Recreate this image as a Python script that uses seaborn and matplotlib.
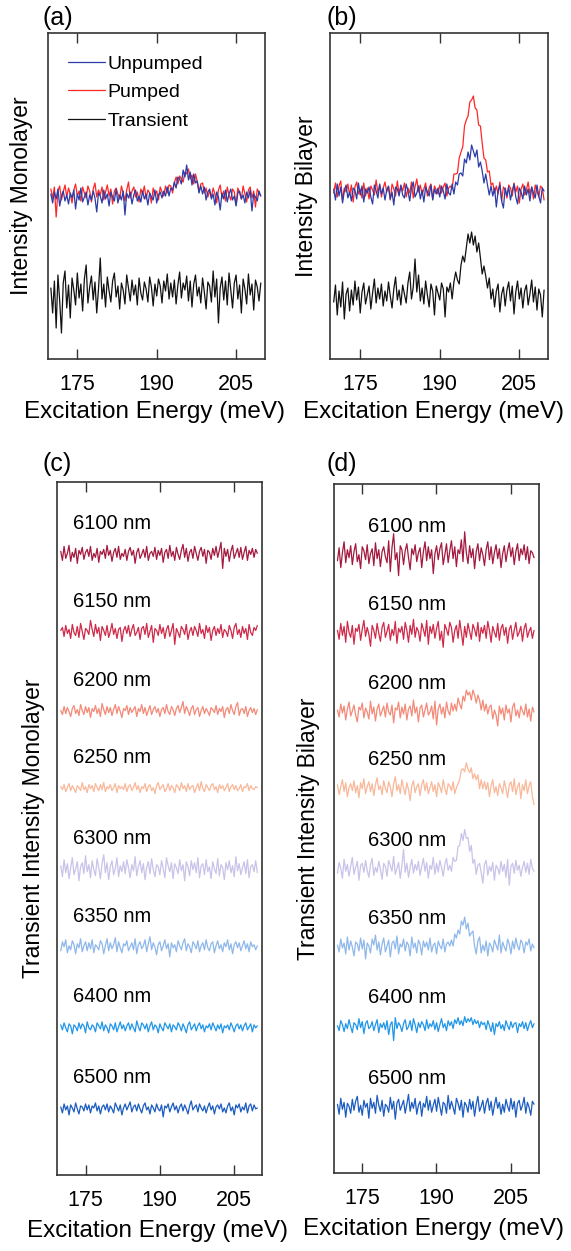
import numpy as np
import pandas as pd
import matplotlib
matplotlib.use("Agg")
import matplotlib.pyplot as plt
import seaborn as sns

# ---------------- data ----------------
energy = np.linspace(170.0, 209.7, 120)  # excitation energy grid (meV)
ticks = [175, 190, 205]

# panel (a) monolayer spectra (arb. units)
mono_unpumped = [3, -6, 5, -2, 8, -9, 1, 6, -4, 2,
                 -7, 4, -1, 7, -12, 3, -3, 9, -5, 0,
                 5, -8, 2, -3, 6, -1, -15, 4, 1, -6,
                 7, -2, 3, -9, 5, 0, -4, 8, -6, 2,
                 -3, 6, -18, 4, -1, 5, -7, 2, 7, -4,
                 1, -5, 6, -2, 3, -8, 4, 0, -3, 7,
                 -6, 2, 5, -1, 6, 1, 10, 1, 9, 7,
                 15, 9, 20, 18, 13, 27, 20, 32, 17, 25,
                 12, 23, 14, 16, 4, 11, 3, 10, -3, 5,
                 8, -2, 3, -8, 5, 0, -13, 4, -2, 7,
                 -5, 3, 8, -3, 1, -9, 4, 6, -2, 2,
                 -6, 5, -1, 7, -14, 3, 0, -4, 6, 1]
mono_pumped = [6, -3, 8, -22, 4, 9, -5, 3, 10, -2,
               7, 1, -8, 5, 11, -1, 4, -6, 8, 2,
               -3, 9, 4, -7, 6, 12, -2, 5, 0, 8,
               -5, 3, 10, -1, 6, -9, 4, 7, 1, -4,
               9, 2, -6, 5, 13, -3, 4, 8, -2, 3,
               -7, 6, 1, 9, -4, 5, 2, -8, 7, 0,
               4, -5, 8, 3, -1, 9, 2, 10, 9, 2,
               12, 18, 11, 19, 16, 13, 23, 21, 26, 16,
               20, 11, 21, 13, 3, 11, 12, 2, 7, -2,
               4, -2, 7, 1, -8, 5, 10, -3, 4, -6,
               8, 0, -5, 6, 3, -10, 7, 2, -4, 9,
               1, -7, 5, 8, -3, 4, -12, 6, 2, -1]
mono_transient = [5, -20, 12, -35, 18, -8, -40, 10, 22, -15,
                  8, -25, 15, 3, -12, 20, -5, 9, -18, 14,
                  28, -10, 6, 17, -7, 11, -20, 4, 35, -6,
                  9, -14, 16, 2, -9, 12, 20, -4, 7, -16,
                  10, 3, -11, 18, 5, -8, 13, -2, 8, -12,
                  15, 0, -7, 11, 4, -9, 16, 6, -13, 9,
                  -3, 14, 7, -10, 12, 2, 19, -6, 10, -4,
                  13, -11, 8, 21, -5, 10, 3, 17, -8, 12,
                  -14, 9, 18, -3, 6, -10, 15, 1, -16, 11,
                  7, -9, 22, -4, 14, -30, 5, 16, -7, 12,
                  -12, 20, 3, -15, 10, 18, -6, 8, -20, 14,
                  4, -11, 19, -2, 9, -17, 13, 6, -8, 10]

# panel (b) bilayer spectra (arb. units)
bi_unpumped = [4, -7, 9, -3, 6, -10, 2, 8, -5, 1,
               -8, 5, 3, -6, 10, -2, 7, -9, 4, 0,
               6, -4, -11, 8, 2, -5, 9, -1, 5, -7,
               3, 7, -6, 1, -12, 6, 4, -3, 8, -2,
               -5, 9, 2, -8, 5, 11, -4, 0, 7, -6,
               3, -9, 6, 1, -3, 8, -7, 4, -1, 5,
               -4, 7, 2, -6, 9, 0, -2, 9, -1, 11,
               8, 19, 20, 17, 34, 30, 41, 33, 48, 42,
               36, 43, 26, 31, 22, 10, 19, 8, -2, 7,
               -3, 5, -14, 2, 8, -8, -15, 5, -3, 6,
               -7, 2, 9, -4, -11, 5, 1, -6, 7, -2,
               4, -8, 6, 0, -5, 8, -3, -10, 5, 2]
bi_pumped = [-2, 8, -6, 5, 10, -9, 3, -1, 7, -4,
             6, -11, 4, 9, -3, 2, -7, 8, -5, 3,
             -8, 5, 1, -4, 11, -2, 6, -6, 3, 9,
             -1, 4, -9, 7, 2, -5, 10, -3, 5, 0,
             8, -6, 3, -2, 9, -7, 4, 12, -1, 6,
             -4, 2, 8, -5, 3, 7, -8, 5, 1, -3,
             6, -2, 4, 8, -5, 3, 5, 2, 17, 17,
             18, 33, 39, 44, 65, 71, 75, 89, 91, 95,
             83, 81, 66, 65, 48, 33, 31, 19, 20, 6,
             8, -2, 5, -3, 9, -10, 4, 1, -7, 6,
             3, -5, 8, -1, 5, -12, 2, 7, -4, 1,
             9, -3, 4, -8, 6, 0, -6, 5, 3, -9]
bi_transient = [-5, 12, -18, 6, -10, 15, -22, 3, 9, -14,
                7, -8, 16, -3, 10, -16, 5, 14, -7, 2,
                11, -12, 4, 18, -6, 9, -2, 13, -9, 6,
                -4, 15, 1, -11, 8, 20, -3, 7, -8, 12,
                3, -6, 14, 25, -2, 10, 38, 5, 22, -4,
                9, -7, 16, 2, -10, 13, 6, -18, 11, 4,
                -3, 14, 8, -20, 10, 5, 14, -2, 15, 25,
                17, 13, 32, 41, 35, 49, 63, 54, 65, 52,
                61, 45, 54, 39, 23, 31, 21, 9, 19, -2,
                8, -10, 6, 13, -15, 3, 10, -9, 7, 15,
                -4, 11, -17, 5, 16, -2, 9, -11, 6, 12,
                -8, 3, 17, -5, 10, -13, 8, 2, -20, 7]

# panels (c)/(d): pump wavelengths
wavelengths = ["6100 nm", "6150 nm", "6200 nm", "6250 nm",
               "6300 nm", "6350 nm", "6400 nm", "6500 nm"]

mono_6100 = [3, -6, 8, -4, 1, 9, -7, 2, -3, 6, -9, 4, 0, 7, -5, 2, 5, -2, 8, -6,
             1, -3, 6, -8, 3, 0, 5, -4, 9, -1, 4, -7, 2, 6, -3, 8, -5, 1, -2, 5,
             -6, 3, 7, -1, 4, -9, 2, 6, -4, 0, 5, -3, 8, -6, 1, 3, -2, 7, -5, 4,
             -1, 6, -8, 2, 5, -4, 9, -2, 3, -6, 7, 0, -5, 4, 10, -3, 6, -7, 2, 5,
             -4, 8, 1, -6, 3, 7, -2, 5, -9, 4, 2, -5, 6, -1, 8, -3, 4, 12, -14, 6,
             -2, 5, -7, 3, 9, -4, 1, 6, -3, 7, -5, 2, 8, -6, 4, 0, 6, -3, 5, 1]
mono_6150 = [2, 5, -4, 7, -1, 3, -6, 8, 0, -3, 6, -5, 9, 1, -7, 4, 2, -2, 12, 3,
             -4, 8, -1, 5, -8, 6, 2, -3, 7, -5, 1, 9, -2, 4, -6, 3, 5, -9, 2, 6,
             -1, 7, -4, 3, 8, -3, 0, 5, -7, 4, 6, -2, 9, -5, 1, 7, -10, 4, 2, -3,
             8, -1, 5, -6, 3, 7, -4, 2, 9, -12, 4, 0, -5, 6, 3, -2, 8, -7, 1, 5,
             -3, 6, 2, -4, 9, -1, 3, -6, 7, 0, 5, -8, 2, 6, -3, 4, -1, 8, -5, 3,
             1, -4, 7, 2, -6, 5, 9, -2, 3, -5, 6, -1, 4, -7, 8, 0, -3, 5, 2, 7]
mono_6200 = [1, -3, 5, -2, 4, 0, -5, 3, 6, -2, 2, -4, 7, 1, -3, 5, -1, 4, -6, 3,
             0, 6, -2, 3, -5, 8, 2, -3, 5, -1, 4, -4, 2, 7, -2, 5, 0, -6, 3, 1,
             6, -3, 4, -1, 2, 5, -5, 3, 0, 7, -2, 4, -4, 1, 6, -3, 2, 5, -1, 3,
             -5, 2, 4, -2, 7, 0, -3, 5, 2, -4, 3, 6, -1, 4, 10, -2, 5, 1, -4, 3,
             6, -3, 2, 4, -5, 1, 5, -2, 3, 0, -4, 4, 2, -1, 6, -3, 3, 0, 5, -6,
             2, 4, -2, 7, 1, -3, 5, 9, -4, 2, 3, -2, 5, -5, 1, 4, -1, 3, -3, 2]
mono_6250 = [2, -1, 4, -3, 1, 5, -2, 3, 0, -4, 3, 1, -2, 6, -1, 2, -4, 4, 0, 3,
             -3, 5, 1, -2, 4, -1, 6, -3, 2, 0, 4, -2, 1, 5, -4, 3, 0, 2, -1, 5,
             -3, 2, 4, -2, 1, 6, -1, 3, -4, 2, 0, 5, -3, 2, 4, -2, 1, -5, 3, 6,
             -1, 2, 4, -3, 0, 5, -2, 3, 1, -4, 4, 2, -2, 6, 0, 3, -3, 5, -1, 2,
             3, -4, 1, 5, -2, 7, 0, -3, 4, 1, -2, 3, 5, -1, 2, -4, 4, 0, 3, -2,
             1, 5, -3, 2, 4, -1, 3, -2, 0, 4, -3, 2, 1, 5, -2, 3, 0, -1, 2, 1]
mono_6300 = [4, -7, 10, -3, 6, -9, 2, 12, -5, 1, 8, -11, 3, 7, -4, 14, -2, 5, -8, 9,
             0, -6, 11, 2, -9, 6, 15, -3, 7, -10, 3, 9, -5, 1, 12, -7, 4, -2, 8, -4,
             10, 2, -8, 5, -1, 13, -6, 3, 9, -3, 6, -10, 2, 8, -4, 11, 0, -7, 5, 3,
             -5, 9, 1, -8, 12, 4, -2, 7, -9, 6, 2, -4, 10, -1, 5, -11, 8, 3, -6, 9,
             0, 7, -3, 12, -8, 4, 6, -5, 10, -2, 3, -9, 8, 1, -4, 11, -6, 5, 2, -10,
             7, 0, 9, -3, 4, -7, 13, -1, 6, -5, 2, 8, -4, 10, -8, 3, 5, -2, 9, -3]
mono_6350 = [-3, 6, 1, 8, -5, 2, -2, 7, 3, -6, 4, 0, 9, -4, 2, 6, -3, 5, -1, 8,
             -5, 3, 1, -2, 7, 4, -6, 2, 9, -3, 5, -1, 3, 10, -4, 6, 0, -5, 4, 2,
             7, -3, 1, 5, -2, 9, -6, 3, 6, -1, 2, 8, -4, 4, 11, -2, 5, 1, -7, 3,
             6, -3, 2, 8, -1, 4, -9, 5, 0, 3, -4, 7, 2, -2, 5, 9, -3, 4, 1, -5,
             6, 3, -1, 7, -4, 2, 5, -2, 8, 0, -3, 4, 6, -5, 2, 7, -1, 3, -4, 5,
             1, 8, -2, 4, -6, 3, 6, 0, 5, -3, 2, 7, -1, 4, -4, 6, 1, 3, -2, 2]
mono_6400 = [3, -2, 5, 0, -4, 4, 2, -6, 3, 1, -3, 5, -1, 4, 2, -5, 6, 0, -2, 3,
             1, -4, 5, 2, -1, 6, -3, 3, 0, -5, 4, 2, -2, 5, -4, 1, 6, -1, 3, -3,
             2, 5, -2, 4, 0, -4, 7, 1, -3, 5, 3, -1, 4, -4, 2, 6, -2, 3, 1, -5,
             4, 0, -3, 5, 2, -1, 4, -4, 3, 1, -2, 5, 2, -3, 4, 0, -5, 3, 6, -2,
             1, 4, -3, 2, 5, -1, 3, -4, 2, 0, 4, -2, 5, 1, -3, 3, -1, 4, -5, 2,
             0, 3, -2, 5, 1, -4, 2, 4, -1, 3, -3, 2, 5, -2, 1, 4, -4, 3, 0, 2]
mono_6500 = [2, -4, 5, -1, 3, -6, 4, 1, -3, 6, 0, -5, 3, 2, -2, 5, -1, 4, -4, 3,
             1, 6, -2, 3, -5, 2, 4, -1, 5, -3, 3, 0, -4, 6, 2, -2, 4, -6, 1, 5,
             -1, 3, 7, -3, 2, 4, -2, 5, 0, -4, 3, 6, -1, 2, -5, 4, 1, -3, 5, 0,
             -2, 4, -8, 3, 1, 5, -3, 2, 6, -1, 3, -4, 2, 5, -2, 4, 0, -5, 3, 8,
             -1, 2, 4, -3, 5, 1, -2, 3, -4, 2, 6, -1, 3, -5, 2, 4, 0, 5, -3, 1,
             -4, 3, 6, -2, 2, -6, 4, 1, 5, -3, 2, -1, 6, -4, 3, 5, -2, 4, 0, 1]

bi_6100 = [-5, 8, -12, 3, 14, -7, 6, -2, 10, -9, 4, 12, -6, 1, -13, 9, 5, -4, 11, -8,
           2, 7, -10, 13, -3, 6, -11, 4, 9, -1, -7, 15, -16, 8, 22, -4, 3, -20, 10, 6,
           -9, 5, 12, -2, -14, 7, 1, 11, -6, 3, 8, -12, 4, 14, -5, 9, -3, 6, -18, 2,
           10, -4, 7, 13, -9, 1, 12, -7, 5, 15, -3, 9, -11, 6, 2, 16, -6, 24, 3, -8,
           10, -2, 7, -13, 4, 12, -5, 8, 1, -10, 6, 14, -4, 9, -8, 3, 11, -3, 7, -12,
           2, 10, -6, 5, 13, -1, 8, -9, 4, 12, -5, 7, 1, 11, -4, 9, -8, 5, 3, -2]
bi_6150 = [3, -6, 10, -2, 7, -9, 12, 1, -4, 8, -11, 5, 2, 9, -7, 4, 13, -3, 6, -1,
           -13, 8, 3, -5, 10, 0, -8, 6, 11, -4, 2, 9, -7, 4, -2, 12, -10, 5, 1, 7,
           -6, 11, 3, -9, 8, -1, 14, -4, 6, 2, -8, 10, 4, -3, 13, -11, 7, 0, 9, -5,
           5, 12, -7, 2, -14, 9, 4, -2, 11, 6, -9, 3, 8, -5, 13, 1, -12, 7, -4, 10,
           2, -6, 9, 4, -3, 11, -8, 6, 0, 8, -5, 12, 3, -9, 7, 1, -4, 10, -7, 5,
           9, -2, 6, -10, 4, 8, -6, 3, 11, -3, 1, 7, -8, 5, 10, -4, 2, 6, -5, 3]
bi_6200 = [2, -5, 8, -1, 6, -8, 3, 10, -4, 1, 7, -3, -10, 5, 2, 9, -6, 4, 0, -7,
           11, -2, 5, -9, 3, 8, -4, 1, 6, -5, 9, 0, -3, 7, -11, 4, 2, 10, -6, 5,
           -2, 8, -8, 3, 6, -4, 12, -1, 5, -10, 4, 7, -5, 2, 9, -3, 0, 6, -7, 11,
           -13, 3, 8, -2, 5, -6, 10, 1, -3, 9, 1, 8, 1, 14, 8, 3, 16, 11, 22, 17,
           20, 12, 22, 17, 9, 17, 12, 2, 12, 1, 8, -2, 5, 7, -7, 2, -3, -14, 6, -2,
           4, -8, 7, -1, 3, -10, 5, 9, -4, 2, -6, 6, 1, -3, 8, -5, 3, -9, 5, 0]
bi_6250 = [4, -6, 2, 9, -3, 6, -8, 1, 5, -2, 8, -4, 3, -9, 6, 0, 10, -5, 2, 7,
           -3, 5, -7, 4, 11, -1, 3, -6, 8, 0, -4, 7, 2, -8, 5, 12, -2, 4, -5, 9,
           1, -6, 6, -1, -12, 3, 8, -4, 2, 5, -7, 4, 9, -2, 6, -5, 1, 7, -3, 4,
           -8, 6, 2, -4, 9, 0, -6, 5, 3, -2, 7, -5, 1, 5, 9, 19, 20, 17, 26, 20,
           16, 21, 10, 15, 9, 14, 0, 9, 0, 7, -1, 6, -8, 3, 9, -4, 2, -7, 5, 1,
           -5, 8, 0, -9, 4, 7, -3, 10, -6, 2, 6, -10, 4, -2, 9, -5, 3, 7, -8, -16]
bi_6300 = [-4, 7, 1, -9, 10, -2, 5, -7, 3, 12, -5, 2, 8, -11, 4, 6, -3, 9, -1, -8,
           5, 11, -6, 2, -3, 8, 0, -10, 6, 3, -7, 9, 4, -2, 13, -5, 1, 7, -9, 4,
           20, -3, 6, -8, 2, 10, -4, 5, -1, 8, -6, 3, 11, -2, 7, -9, 4, 0, 12, -5,
           6, -3, 9, 2, -7, 5, 11, -1, 4, -2, 12, 8, 9, 23, 24, 36, 29, 40, 31, 32,
           18, 24, 6, 10, -5, 4, 6, -3, -14, 5, 9, -6, 3, -2, 7, -11, 4, 1, -5, 8,
           -2, 5, -8, 10, -16, 3, 6, -4, 9, -1, 4, -7, 2, 8, -3, 6, -5, 10, 1, -2]
bi_6350 = [2, -5, 8, -1, 4, -7, 10, -3, 6, 0, -9, 5, 3, -4, 9, -2, 7, -12, 4, 1,
           -6, 8, 2, 12, -3, 5, -8, 3, 9, -5, 1, 7, -10, 4, 6, -2, 11, -7, 3, 0,
           8, -4, 5, 2, -9, 10, -1, 4, -6, 7, 3, -8, 6, 0, 5, -3, 9, -5, 2, 4,
           -7, 6, 1, -2, 8, -5, 3, 5, 1, 7, 1, 13, 9, 17, 13, 26, 22, 30, 18, 24,
           11, 14, 16, 1, -7, 6, 10, -6, 2, -4, 6, -9, 4, 1, -5, 7, 2, -3, 12, -6,
           5, 0, -4, 8, 3, -7, 6, -2, 9, 1, -3, 7, 4, -6, 5, 2, 8, -4, 3, -1]
bi_6400 = [1, -4, 6, 2, -5, 3, -2, 7, 0, -6, 4, 2, -3, 8, -1, 5, -7, 3, 6, -2,
           0, 5, -4, 2, 7, -6, 3, -1, 4, -3, 6, -8, 2, 5, -14, 9, -2, 4, 1, -5,
           3, 7, -3, 0, 6, -4, 8, 2, -6, 4, -1, 5, 2, -4, 7, -2, 3, 0, 6, -3,
           4, -5, 2, 8, -1, 3, -4, 6, 1, 5, -2, 7, 3, 9, 2, 6, 1, 10, 4, 8,
           5, 9, 2, 7, 3, 6, -1, 5, 2, 4, -3, 6, 1, -5, 4, -8, 3, 0, 5, -2,
           2, -4, 6, 1, -3, 5, -1, 3, 4, -6, 3, 0, 5, -2, 4, -4, 2, 6, -1, 3]
bi_6500 = [3, -7, 9, -2, 5, -10, 4, 1, -6, 8, -3, 6, 11, -5, 2, -8, 7, 0, 4, -11,
           9, -1, 5, -6, 12, 2, -4, 7, -9, 3, 1, -5, 10, -2, 6, -12, 4, 8, -3, 2,
           7, -6, 3, 13, -4, 5, -1, 9, -7, 2, 6, -9, 4, 0, 11, -3, 7, -5, 2, 8,
           -4, 10, 1, -8, 5, 3, -6, 12, -2, 6, 0, -7, 9, 4, -3, 7, -10, 5, 2, -5,
           8, -2, 6, -9, 3, 11, -4, 1, 7, -6, 4, 9, -3, 6, -8, 2, 10, -1, 5, -7,
           3, -5, 8, 1, -4, 9, -2, 6, -10, 4, 7, -3, 2, 10, -6, 5, 0, -8, 6, 3]

mono_series = [mono_6100, mono_6150, mono_6200, mono_6250,
               mono_6300, mono_6350, mono_6400, mono_6500]
bi_series = [bi_6100, bi_6150, bi_6200, bi_6250,
             bi_6300, bi_6350, bi_6400, bi_6500]

# vertical offsets of the stacked traces
offsets_ab = {"unpumped": 162, "pumped": 164, "transient": 66}
offsets_ab_bi = {"unpumped": 166, "pumped": 168, "transient": 62}
offsets_cd = [620, 542, 463, 386, 305, 227, 147, 66]

# ---------------- style ----------------
sns.set_theme(style="white")
plt.rcParams["font.family"] = ["Liberation Sans", "DejaVu Sans"]
plt.rcParams["text.color"] = "black"
plt.rcParams["axes.labelcolor"] = "black"
plt.rcParams["xtick.color"] = "black"
plt.rcParams["xtick.labelcolor"] = "black"

col_unp = "#2b3ca8"
col_pmp = "#ff2626"
col_tr = "#111111"
wl_colors = ["#a3193f", "#cf2a4a", "#f38a78", "#f9b89a",
             "#c9c3ea", "#8fb8ea", "#2196e8", "#1c5cc0"]

W, H = 571, 1251
fig = plt.figure(figsize=(W / 100, H / 100), dpi=100)


def make_ax(l, r, t, b):
    return fig.add_axes([l / W, 1 - b / H, (r - l) / W, (b - t) / H])


ax_a = make_ax(47.7, 265.0, 33.0, 359.0)
ax_b = make_ax(330.0, 548.3, 33.0, 359.0)
ax_c = make_ax(57.3, 262.3, 482.3, 1175.0)
ax_d = make_ax(334.0, 539.0, 484.0, 1173.0)


def style_ax(ax, xlim, ylim, ylabel, ylab_x, xlab_x, xlab_pad):
    ax.set_xlim(*xlim)
    ax.set_ylim(*ylim)
    ax.set_xticks(ticks)
    ax.set_xticklabels([str(t) for t in ticks])
    ax.set_yticks([])
    ax.tick_params(axis="x", direction="in", top=True, bottom=True,
                   length=7, width=1.0, color="#333333",
                   labelsize=15.5, pad=11, labelcolor="black")
    for s in ax.spines.values():
        s.set_color("#333333")
        s.set_linewidth(1.2)
    ax.set_xlabel("Excitation Energy (meV)", fontsize=17.5, labelpad=xlab_pad)
    ax.xaxis.label.set_x(xlab_x)
    ax.set_ylabel(ylabel, fontsize=16.5)
    ax.yaxis.set_label_coords(ylab_x, 0.5)


def trace(ax, values, offset, color, lw=0.9, label=None):
    df = pd.DataFrame({"energy": energy,
                       "intensity": np.asarray(values, float) + offset})
    sns.lineplot(data=df, x="energy", y="intensity", ax=ax, color=color,
                 lw=lw, label=label, legend=False, estimator=None)


# (a)
trace(ax_a, mono_transient, offsets_ab["transient"], col_tr, label="Transient")
trace(ax_a, mono_pumped, offsets_ab["pumped"], col_pmp, label="Pumped")
trace(ax_a, mono_unpumped, offsets_ab["unpumped"], col_unp, label="Unpumped")
style_ax(ax_a, (169.4, 210.5), (0, 326), "Intensity Monolayer", -0.068,
         0.49, 4)
h, l = ax_a.get_legend_handles_labels()
order = [l.index("Unpumped"), l.index("Pumped"), l.index("Transient")]
ax_a.legend([h[i] for i in order], [l[i] for i in order],
            loc="upper left", bbox_to_anchor=(0.095, 0.932), frameon=False,
            fontsize=14, handlelength=1.9, handletextpad=0.1,
            labelspacing=0.56, borderpad=0, borderaxespad=0)

# (b)
trace(ax_b, bi_transient, offsets_ab_bi["transient"], col_tr)
trace(ax_b, bi_pumped, offsets_ab_bi["pumped"], col_pmp)
trace(ax_b, bi_unpumped, offsets_ab_bi["unpumped"], col_unp)
style_ax(ax_b, (169.3, 210.5), (0, 326), "Intensity Bilayer", -0.055,
         0.472, 4)

# (c), (d)
for ax, series, lab_x, lab_dy, ylab, ylx, xlx in [
        (ax_c, mono_series, 172.5, 31, "Transient Intensity Monolayer", -0.06, 0.49),
        (ax_d, bi_series, 176.1, 29, "Transient Intensity Bilayer", -0.068, 0.485)]:
    for vals, off, c, wl in zip(series, offsets_cd, wl_colors, wavelengths):
        trace(ax, vals, off, c)
        ax.text(lab_x, off + lab_dy, wl, fontsize=14.5, ha="left",
                va="center", color="black")
    style_ax(ax, (169.3, 210.7), (0, 692), ylab, ylx, xlx, 6.5)

for txt, x, y in [("(a)", 42, 18), ("(b)", 327, 18),
                  ("(c)", 42, 464), ("(d)", 327, 464)]:
    fig.text(x / W, 1 - y / H, txt, fontsize=18, ha="left", va="center",
             color="black")

fig.savefig("out.png", dpi=100)
